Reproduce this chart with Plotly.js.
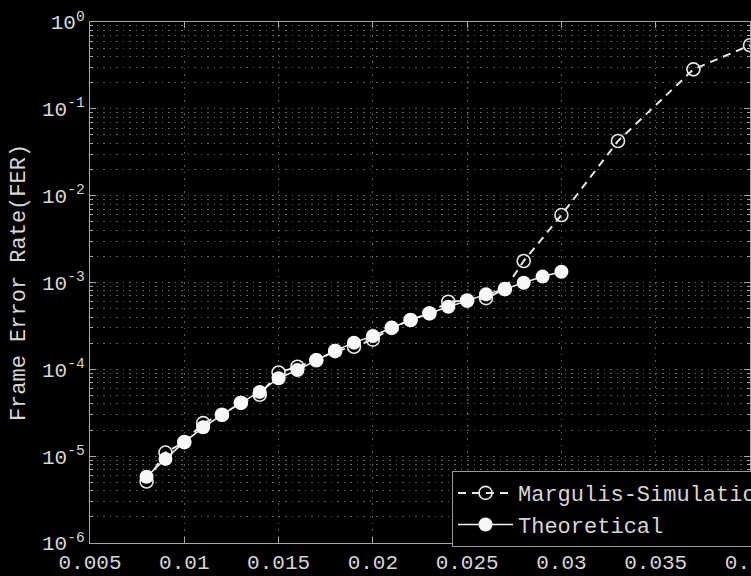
<!DOCTYPE html>
<html>
<head>
<meta charset="utf-8">
<script src="https://cdn.plot.ly/plotly-3.0.1.min.js"></script>
<style>
html,body{margin:0;padding:0;background:#000;overflow:hidden;width:751px;height:576px;}
#chart{width:820px;height:576px;}
</style>
</head>
<body>
<div id="chart"></div>
<script>
// Margulis-Simulation (open circles, dashed)
const simX = [0.008,0.009,0.010,0.011,0.012,0.013,0.014,0.015,0.016,0.017,0.018,0.019,0.020,0.021,0.022,0.023,0.024,0.025,0.026,0.027,0.028,0.030,0.033,0.037,0.040];
const simY = [5.1e-6,1.1e-5,1.45e-5,2.4e-5,3.0e-5,4.1e-5,5.1e-5,9.2e-5,1.07e-4,1.27e-4,1.62e-4,1.82e-4,2.2e-4,3.0e-4,3.7e-4,4.4e-4,6.0e-4,6.2e-4,6.6e-4,8.4e-4,1.77e-3,5.98e-3,4.26e-2,0.285,0.54];
// Theoretical (filled circles, solid)
const thX = [0.008,0.009,0.010,0.011,0.012,0.013,0.014,0.015,0.016,0.017,0.018,0.019,0.020,0.021,0.022,0.023,0.024,0.025,0.026,0.027,0.028,0.029,0.030];
const thY = [5.8e-6,9.3e-6,1.45e-5,2.15e-5,2.98e-5,4.13e-5,5.5e-5,7.9e-5,9.8e-5,1.28e-4,1.64e-4,2.03e-4,2.42e-4,3.01e-4,3.7e-4,4.42e-4,5.26e-4,6.17e-4,7.3e-4,8.41e-4,9.95e-4,1.17e-3,1.33e-3];
// Axis ticks
const xTickVals = [0.005,0.01,0.015,0.02,0.025,0.03,0.035,0.04];
const xTickText = ["0.005","0.01","0.015","0.02","0.025","0.03","0.035","0.04"];
const yTickVals = [1e-6,1e-5,1e-4,1e-3,1e-2,1e-1,1];
const yTickText = ["10<sup>-6</sup>","10<sup>-5</sup>","10<sup>-4</sup>","10<sup>-3</sup>","10<sup>-2</sup>","10<sup>-1</sup>","10<sup>0</sup>"];
const seriesNames = ["Margulis-Simulation","Theoretical"];
const yTitle = "Frame Error Rate(FER)";

// minor log ticks (2..9 in each decade)
const yMinor = [];
for (let e = -6; e < 0; e++) { for (let m = 2; m <= 9; m++) yMinor.push(m * Math.pow(10, e)); }

const FONT = "Liberation Mono, Courier New, monospace";
const TXT = "#d6d6d6";
const AX = "#a8a8a8";
const GRID = "#626262";

const traces = [
  {
    x: simX, y: simY, name: seriesNames[0], type: "scatter", mode: "lines+markers",
    line: {color: "#e8e8e8", width: 2, dash: "8px,6px"},
    marker: {symbol: "circle-open", size: 13, color: "#e8e8e8", line: {width: 1.6, color: "#e8e8e8"}},
    cliponaxis: true
  },
  {
    x: thX, y: thY, name: seriesNames[1], type: "scatter", mode: "lines+markers",
    line: {color: "#f4f4f4", width: 1.5},
    marker: {symbol: "circle", size: 14, color: "#f8f8f8", line: {width: 0}}
  }
];

const layout = {
  width: 820, height: 576,
  margin: {l: 90, r: 70, t: 22, b: 33, pad: 0},
  paper_bgcolor: "#000", plot_bgcolor: "#000",
  font: {family: FONT, color: TXT, size: 21},
  showlegend: true,
  legend: {
    x: 0.5485, y: 0.138, xanchor: "left", yanchor: "top",
    bgcolor: "#000", bordercolor: "#9a9a9a", borderwidth: 1,
    font: {family: FONT, size: 22, color: TXT},
    itemwidth: 55, tracegroupgap: 0
  },
  xaxis: {
    type: "linear", range: [0.005, 0.04], autorange: false,
    tickmode: "array", tickvals: xTickVals, ticktext: xTickText,
    ticks: "inside", ticklen: 6, tickwidth: 1, tickcolor: AX,
    showline: true, linecolor: AX, linewidth: 1, mirror: "ticks",
    showgrid: true, gridcolor: GRID, gridwidth: 1, griddash: "1.5px,5px",
    zeroline: false, automargin: false,
    tickfont: {family: FONT, size: 21, color: TXT}
  },
  yaxis: {
    type: "log", range: [-6, 0], autorange: false,
    tickmode: "array", tickvals: yTickVals, ticktext: yTickText,
    ticks: "inside", ticklen: 6, tickwidth: 1, tickcolor: AX,
    showline: true, linecolor: AX, linewidth: 1, mirror: "ticks",
    showgrid: true, gridcolor: GRID, gridwidth: 1, griddash: "1.5px,5px",
    zeroline: false,
    minor: {tickmode: "array", tickvals: yMinor, ticks: "inside", ticklen: 3, tickcolor: AX,
            showgrid: true, gridcolor: GRID, gridwidth: 1, griddash: "1.5px,5px"},
    tickfont: {family: FONT, size: 21, color: TXT},
    title: {text: yTitle, font: {family: FONT, size: 22, color: TXT}, standoff: 10},
    automargin: false
  }
};

Plotly.newPlot("chart", traces, layout, {displayModeBar: false, staticPlot: true});
</script>
</body>
</html>
